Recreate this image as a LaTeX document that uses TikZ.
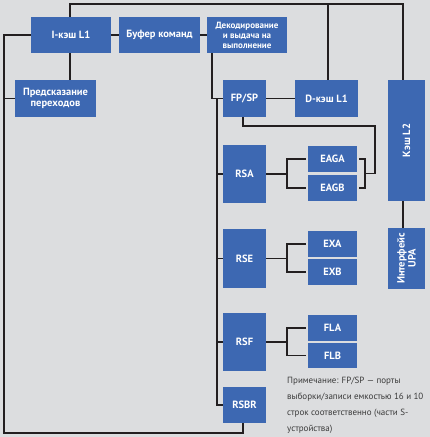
\documentclass[tikz,border=0pt]{standalone}
\usepackage{fontspec}
\setmainfont{PT Sans}
\usepackage{xcolor}
\definecolor{box-blue}{HTML}{3D68B2}
\definecolor{page-bg}{HTML}{DCDDDF}
\definecolor{wire}{HTML}{231F20}
\definecolor{note-text}{HTML}{3A3A3A}

\begin{document}
\begin{tikzpicture}[x=1pt, y=-1pt,
      every node/.style={font=\bfseries\fontsize{10.5}{11}\selectfont},
      unit/.style={fill=box-blue, text=white, inner sep=1pt, align=center},
      bus/.style={draw=wire, line width=2.6pt},
      wire/.style={draw=wire, line width=1.9pt},
      tap/.style={draw=wire, line width=1.1pt}]
    \fill[page-bg] (0,0) rectangle (430,437);
    \useasboundingbox (0,0) rectangle (430,437);
    % front end
    \node[unit, minimum width=80pt, minimum height=36pt] (icache) at (71,35) {I-кэш L1};
    \node[unit, minimum width=81pt, minimum height=36pt] (buf) at (159.5,35) {Буфер команд};
    \node[unit, minimum width=80pt, minimum height=36pt,
          font=\bfseries\fontsize{9}{10}\selectfont] (decode) at (247,35) {Декодирование\\и выдача на\\выполнение};
    \node[unit, minimum width=81pt, minimum height=37pt] (bpred) at (55.5,98.5) {Предсказание\\переходов};
    % memory side
    \node[unit, minimum width=43pt, minimum height=37pt] (fpsp) at (244.5,98.5) {FP/SP};
    \node[unit, minimum width=63pt, minimum height=37pt] (dcache) at (326.5,98.5) {D-кэш L1};
    \node[unit, minimum width=121pt, minimum height=37pt, rotate=90] (l2) at (406.5,140.5) {Кэш L2};
    \node[unit, minimum width=61pt, minimum height=37pt, rotate=90] (upa) at (406.5,258.5) {Интерфейс\\UPA};
    % reservation stations
    \node[unit, minimum width=43pt, minimum height=58pt] (rsa) at (244.5,174) {RSA};
    \node[unit, minimum width=43pt, minimum height=59pt] (rse) at (244.5,258.5) {RSE};
    \node[unit, minimum width=43pt, minimum height=58pt] (rsf) at (244.5,342) {RSF};
    \node[unit, minimum width=43pt, minimum height=36pt] (rsbr) at (244.5,405) {RSBR};
    % execution units
    \node[unit, minimum width=49pt, minimum height=26pt] (eaga) at (332.5,159) {EAGA};
    \node[unit, minimum width=49pt, minimum height=26pt] (eagb) at (332.5,188) {EAGB};
    \node[unit, minimum width=49pt, minimum height=26pt] (exa) at (332.5,244) {EXA};
    \node[unit, minimum width=49pt, minimum height=26pt] (exb) at (332.5,272) {EXB};
    \node[unit, minimum width=49pt, minimum height=26pt] (fla) at (332.5,328) {FLA};
    \node[unit, minimum width=49pt, minimum height=25pt] (flb) at (332.5,355.5) {FLB};
    \node[anchor=north west, align=left, text=note-text, inner sep=0pt,
          font=\fontsize{9}{15.8}\selectfont] (note) at (287,377)
          {Примечание: FP/SP — порты\\выборки/записи емкостью 16 и 10\\строк соответственно (части S-\\устройства)};

    \coordinate (lft) at (4,433);
    \coordinate (bus) at (217,99);
    \coordinate (turn) at (375,126);
    \coordinate (join) at (365,173.5);

    % top line and loops
    \draw[bus] ([xshift=-1pt]icache.north) -- ++(0,-13) -| ([xshift=-3.5pt]l2.east);
    \draw[tap] ([xshift=1.5pt]dcache.north) -- ++(0,-76);
    \draw[bus] ([xshift=-3.5pt]l2.west) -- ([xshift=-3.5pt]upa.east);
    \draw[bus] ([xshift=-1.5pt]rsbr.south) |- (lft) |- (icache.west);
    \draw[tap] (bpred.west) -- (lft |- bpred.west);
    \draw[wire] (icache) -- (buf);
    \draw[wire] (buf) -- (decode);
    \draw[wire] ([xshift=-1pt]icache.south) -- ([xshift=-1pt]icache.south |- bpred.north);
    \draw[tap] ([xshift=-35pt]decode.south) |- (fpsp.west);
    \draw[wire] (fpsp) -- (dcache);
    % issue bus
    \draw[bus] (bus) |- (rsbr.west);
    \draw[tap] (bus |- rsa.west) -- (rsa.west);
    \draw[wire] (bus |- rse.west) -- (rse.west);
    \draw[wire] (bus |- rsf.west) -- (rsf.west);
    % stations to units
    \draw[tap] (rsa.east) -- ++(21,0);
    \draw[wire] ([xshift=-2pt]eaga.west) -- ++(-19,0) |- ([xshift=-2pt]eagb.west);
    \draw[wire] ([xshift=2pt]eaga.east) -- ++(6,0) |- ([xshift=2pt]eagb.east);
    \draw[wire] ([xshift=-1.5pt]fpsp.south) |- (turn) |- (join);
    \draw[wire] (rse.east) -- ++(21,0);
    \draw[wire] ([xshift=-2pt]exa.west) -- ++(-19,0) |- ([xshift=-2pt]exb.west);
    \draw[wire] (rsf.east) -- ++(21,0);
    \draw[wire] ([xshift=-2pt]fla.west) -- ++(-19,0) |- ([xshift=-2pt]flb.west);
\end{tikzpicture}
\end{document}
